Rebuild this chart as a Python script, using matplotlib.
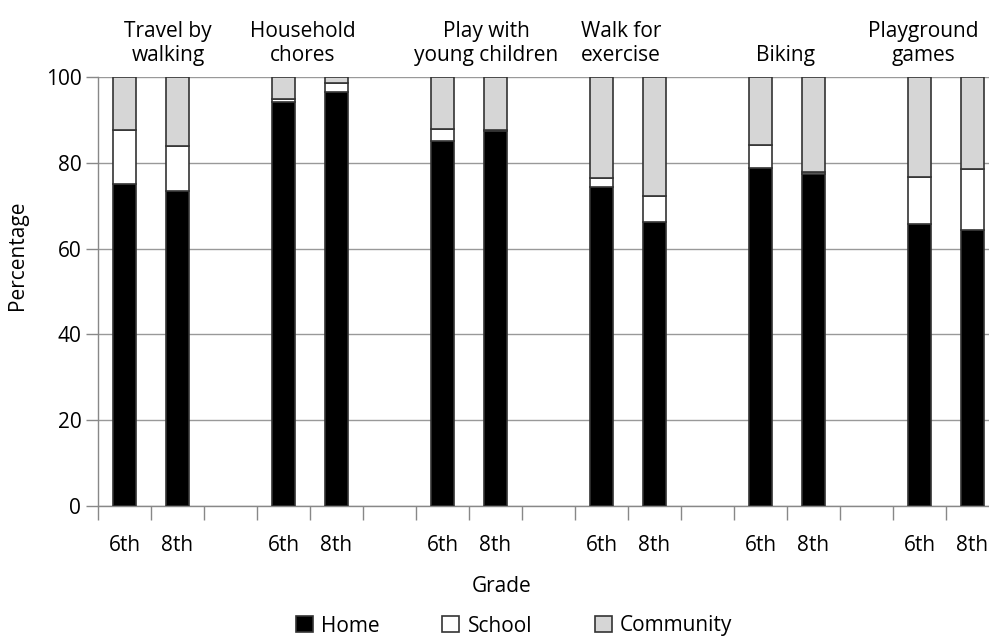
import matplotlib

matplotlib.use("Agg")
import matplotlib.pyplot as plt
import numpy as np

activities = [
    "Travel by\nwalking",
    "Household\nchores",
    "Play with\nyoung children",
    "Walk for\nexercise",
    "Biking",
    "Playground\ngames",
]
grades = ["6th", "8th"]

# segment heights, per activity: [6th, 8th]
home = [[75.1, 73.4], [94.2, 96.6], [85.1, 87.4], [74.3, 66.2], [78.9, 77.3], [65.7, 64.3]]
school = [[12.5, 10.5], [0.7, 1.9], [2.7, 0.3], [2.1, 6.1], [5.2, 0.6], [11.1, 14.2]]
community = [[12.4, 16.1], [5.1, 1.5], [12.2, 12.3], [23.6, 27.7], [15.9, 22.1], [23.2, 21.5]]

series_names = ["Home", "School", "Community"]
series_colors = ["black", "white", "#d6d6d6"]

plt.rcParams["font.family"] = ["Open Sans", "DejaVu Sans"]
plt.rcParams["font.size"] = 15

fig = plt.figure(figsize=(9.89, 6.36), dpi=100)
ax = fig.add_axes([98 / 989, 130 / 636, 901 / 989, 429 / 636])

n_groups = len(activities)
slot_pos = []
for g in range(n_groups):
    slot_pos += [3 * g + 0.5, 3 * g + 1.5]
slot_pos = np.array(slot_pos)

home_v = np.array(home).ravel()
school_v = np.array(school).ravel()
comm_v = np.array(community).ravel()

bar_w = 0.45
edge = "#333333"
handles = []
bottom = np.zeros_like(home_v)
for vals, name, color in zip([home_v, school_v, comm_v], series_names, series_colors):
    h = ax.bar(slot_pos, vals, bar_w, bottom=bottom, color=color, edgecolor=edge,
               linewidth=1.2, label=name, zorder=3)
    handles.append(h)
    bottom = bottom + vals

ax.set_xlim(0, 17)
ax.set_ylim(0, 100)
ax.set_yticks([0, 20, 40, 60, 80, 100])
ax.yaxis.grid(True, color="#999999", linewidth=1.0, zorder=0)
ax.tick_params(axis="y", length=9, color="#888888", width=1.0, pad=3, labelsize=15)

ax.set_xticks(np.arange(0, 18))
ax.set_xticklabels([])
ax.tick_params(axis="x", which="major", length=10, color="#888888", width=1.0)
ax.set_xticks(slot_pos, minor=True)
ax.set_xticklabels(grades * n_groups, minor=True)
ax.tick_params(axis="x", which="minor", length=0, pad=21, labelsize=15)

for side in ["top", "right"]:
    ax.spines[side].set_visible(False)
for side in ["left", "bottom"]:
    ax.spines[side].set_color("#888888")
    ax.spines[side].set_linewidth(1.0)

# group titles above the plot
title_x = [1.32, 3.87, 7.32, 9.87, 12.98, 15.58]
for x, label in zip(title_x, activities):
    ax.text(x, 102.6, label, ha="center", va="bottom", fontsize=15, linespacing=1.2)

fig.text(18 / 989, 1 - 255 / 636, "Percentage", rotation=90, ha="center", va="center", fontsize=15)
fig.text(502 / 989, 1 - 587 / 636, "Grade", ha="center", va="center", fontsize=15)

fig.legend(handles=handles, labels=series_names, loc="center", ncol=3,
           bbox_to_anchor=(514 / 989, 1 - 626 / 636), frameon=False,
           handlelength=0.82, handleheight=0.82, handletextpad=0.4, columnspacing=3.0,
           fontsize=15)

fig.savefig("out.png", dpi=100)
